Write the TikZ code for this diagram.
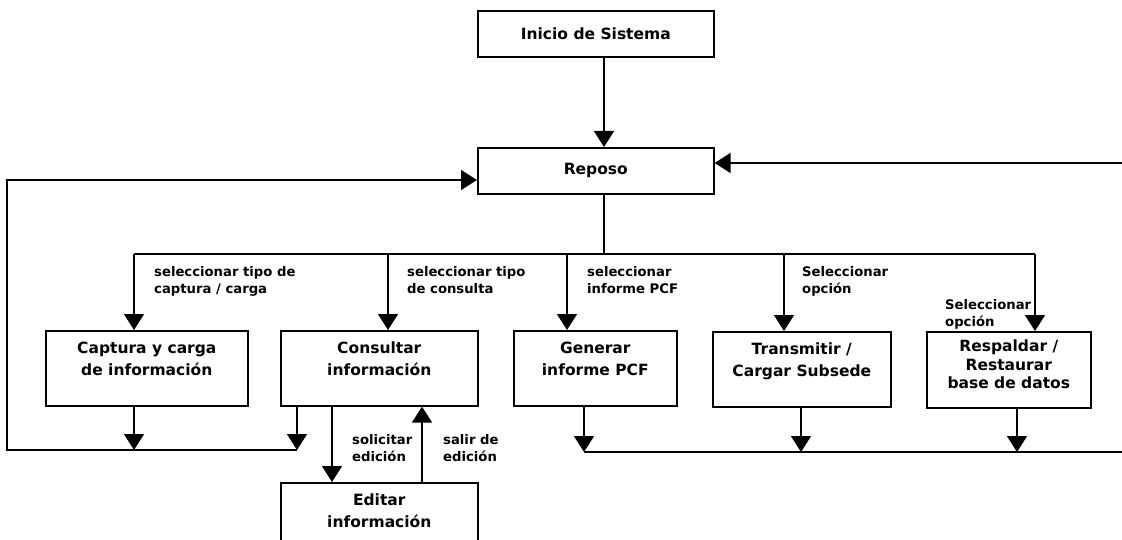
\documentclass[tikz,border=0pt]{standalone}
\usepackage{fontspec}
\setmainfont{DejaVu Sans}
\usetikzlibrary{arrows.meta,calc}
\begin{document}
\begin{tikzpicture}[x=1pt,y=-1pt,
  flow/.style={line width=1.5pt},
  arr/.style={flow,-{Triangle[width=20pt,length=16pt]}},
  stbox/.style={draw,line width=1.6pt,inner sep=0pt,anchor=north west},
  boxtxt/.style={font=\bfseries\fontsize{15.5}{22}\selectfont,align=center,inner sep=0pt},
  lbl/.style={font=\bfseries\fontsize{13.2}{17.5}\selectfont,align=left,inner sep=0pt,anchor=north west}]
\useasboundingbox (0,0) rectangle (1122,540);
\clip (0,0) rectangle (1122,540);

% state boxes
\node[stbox,minimum width=236pt,minimum height=46pt] (ini) at (477,10) {};
\node[stbox,minimum width=236pt,minimum height=46pt] (rep) at (477,147) {};
\node[stbox,minimum width=202pt,minimum height=75pt] (cap) at (45,330) {};
\node[stbox,minimum width=197pt,minimum height=75pt] (con) at (280,330) {};
\node[stbox,minimum width=163pt,minimum height=75pt] (gen) at (513,330) {};
\node[stbox,minimum width=178pt,minimum height=75pt] (tra) at (712,331) {};
\node[stbox,minimum width=164pt,minimum height=76pt] (res) at (926,331) {};
\node[stbox,minimum width=197pt,minimum height=80pt] (edi) at (280,482) {};

% box texts
\node[boxtxt] (iniT) at (ini.center) {Inicio de Sistema};
\node[boxtxt] (repT) at (rep.center) {Reposo};
\node[boxtxt,anchor=north] (capT) at ($(cap.north)+(0,12)$) {Captura y carga\\de información};
\node[boxtxt,anchor=north] (conT) at ($(con.north)+(0,12)$) {Consultar\\información};
\node[boxtxt,anchor=north] (genT) at ($(gen.north)+(0,12)$) {Generar\\informe PCF};
\node[boxtxt,anchor=north] (traT) at ($(tra.north)+(0,12)$) {Transmitir /\\Cargar Subsede};
\node[boxtxt,anchor=north,font=\bfseries\fontsize{15.5}{18.5}\selectfont] (resT) at ($(res.north)+(0,9)$) {Respaldar /\\Restaurar\\base de datos};
\node[boxtxt,anchor=north] (ediT) at ($(edi.north)+(0,12)$) {Editar\\información};

% branch points
\coordinate (busM) at (604,254);
\coordinate (busL) at (134,254);
\coordinate (busR) at (1035,254);
\coordinate (bCon) at (388,254);
\coordinate (bGen) at (567,254);
\coordinate (bTra) at (784,254);

% start and idle
\draw[arr] (ini.south -| busM) -- (rep.north -| busM);
\draw[flow] (rep.south -| busM) -- (busM);
\draw[flow] (busL) -- (busR);

% selections
\draw[arr] (busL) -- (cap.north -| busL);
\draw[arr] (bCon) -- (con.north -| bCon);
\draw[arr] (bGen) -- (gen.north -| bGen);
\draw[arr] (bTra) -- (tra.north -| bTra);
\draw[arr] (busR) -- (res.north -| busR);

% left return loop
\coordinate (cOut) at (297,450);
\coordinate (lpBL) at (7,450);
\coordinate (lpTL) at (7,180);
\draw[arr] (cOut) -- (lpBL) -- (lpTL) -- (lpTL -| rep.west);
\draw[arr] (cap.south -| busL) -- (busL |- lpBL);
\draw[arr] (con.south -| cOut) -- (cOut);

% right return loop
\coordinate (rBL) at (584,452);
\coordinate (rTra) at (801,452);
\coordinate (rRes) at (1017,452);
\coordinate (rBR) at (1130,452);
\coordinate (rTR) at (1130,163);
\draw[arr] (rBL) -- (rBR) -- (rTR) -- (rTR -| rep.east);
\draw[arr] (gen.south -| rBL) -- (rBL);
\draw[arr] (tra.south -| rTra) -- (rTra);
\draw[arr] (res.south -| rRes) -- (rRes);

% edit loop
\coordinate (sx1) at (332,440);
\coordinate (sx2) at (422,440);
\draw[arr] (con.south -| sx1) -- (edi.north -| sx1);
\draw[arr] (edi.north -| sx2) -- (con.south -| sx2);

% transition labels
\node[lbl] (l1) at (154,266) {seleccionar tipo de\\captura / carga};
\node[lbl] (l2) at (407,266) {seleccionar tipo\\de consulta};
\node[lbl] (l3) at (587,266) {seleccionar\\informe PCF};
\node[lbl] (l4) at (802,266) {Seleccionar\\opción};
\node[lbl] (l5) at (945,299) {Seleccionar\\opción};
\node[lbl] (l6) at (352,434) {solicitar\\edición};
\node[lbl] (l7) at (443,434) {salir de\\edición};
\end{tikzpicture}
\end{document}
